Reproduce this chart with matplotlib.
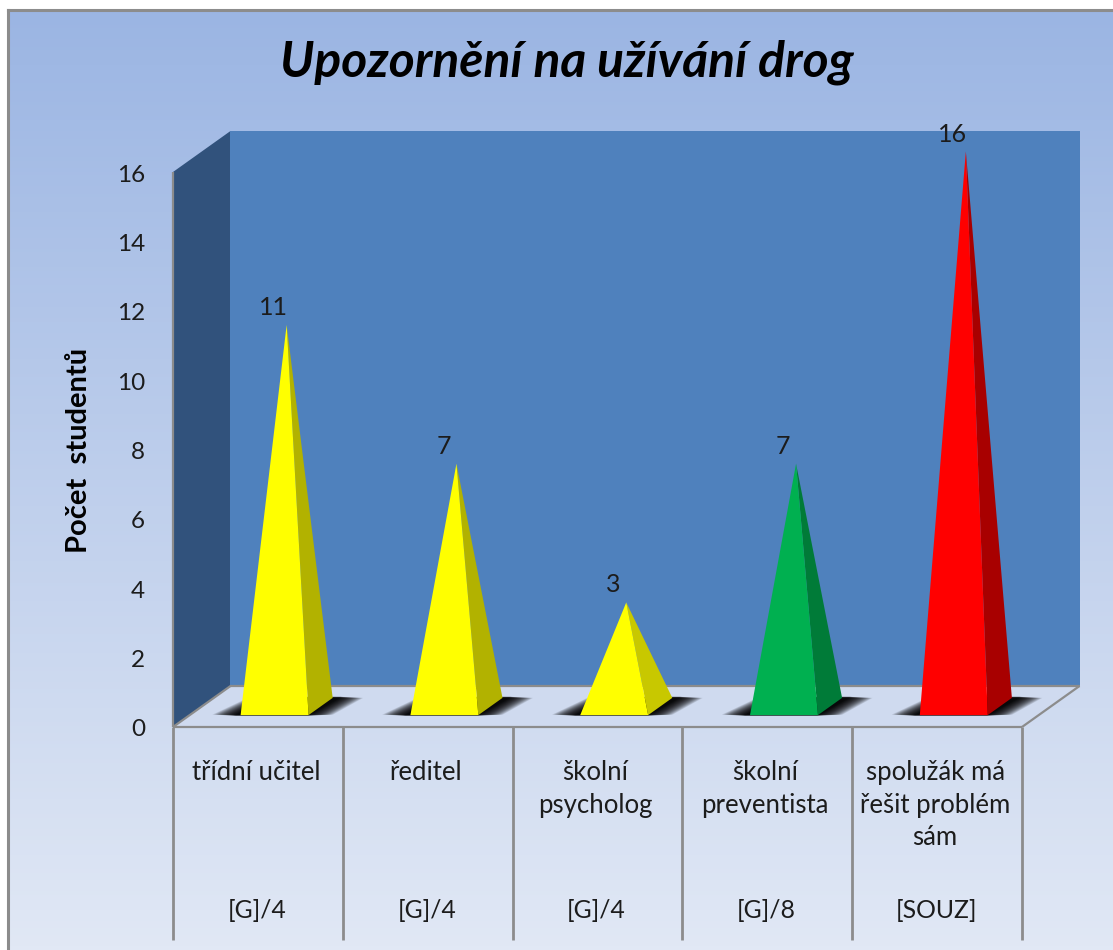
import numpy as np
import matplotlib
matplotlib.use("Agg")
import matplotlib.pyplot as plt
from matplotlib.patches import Polygon
from matplotlib.transforms import ScaledTranslation

categories = ["třídní učitel", "ředitel", "školní\npsycholog", "školní\npreventista", "spolužák má\nřešit problém\nsám"]
groups = ["[G]/4", "[G]/4", "[G]/4", "[G]/8", "[SOUZ]"]
values = [11, 7, 3, 7, 16]
face_colors = ["#FFFF00", "#FFFF00", "#FFFF00", "#00B050", "#FF0000"]
side_colors = ["#B2B200", "#B2B200", "#C8C800", "#007B38", "#A80000"]
yticks = [0, 2, 4, 6, 8, 10, 12, 14, 16]
title = "Upozornění na užívání drog"
ylabel = "Počet  studentů"

W, H = 1113, 950
FONT = "Lato"
TXT = "#1c1c1c"
GRAY = "#8c8c8c"

fig = plt.figure(figsize=(W / 100, H / 100), dpi=100, facecolor="white")

# background panel with vertical gradient
bg = fig.add_axes([8 / W, 0, (W - 8) / W, (H - 10) / H], zorder=0)
top_c = np.array([0x9B, 0xB5, 0xE3]) / 255
bot_c = np.array([0xE1, 0xE8, 0xF5]) / 255
t = np.linspace(0, 1, 256)[:, None, None]
bg.imshow(top_c[None, None, :] * (1 - t) + bot_c[None, None, :] * t, aspect="auto", extent=(0, 1, 0, 1))
bg.set_xticks([]); bg.set_yticks([])
for s in ["right", "bottom"]:
    bg.spines[s].set_visible(False)
for s in ["left", "top"]:
    bg.spines[s].set_color(GRAY); bg.spines[s].set_linewidth(2.2)

# main axes: front plane of the 3D box
L, R, B, T = 173, 1022, 727, 172
ax = fig.add_axes([L / W, (H - B) / H, (R - L) / W, (B - T) / H], zorder=1)
ax.patch.set_alpha(0)
ax.set_xlim(-0.5, 4.5)
ax.set_ylim(0, 16)
for s in ax.spines.values():
    s.set_visible(False)

DX = 57.5 / ((R - L) / 5)     # depth shift in category units
DY = 41 / ((B - T) / 16)      # depth shift in value units
BW = 0.40                     # base width
D0, D1 = 0.29, 0.71           # base depth extent
BOTTOM = -(940 - B) / ((B - T) / 16)


def P(x, v, d=0.0):
    return (x + d * DX, v + d * DY)


kw = dict(clip_on=False)
# walls and floor
ax.add_patch(Polygon([P(-0.5, 0), P(-0.5, 16), P(-0.5, 16, 1), P(-0.5, 0, 1)], fc="#31527C", ec="none", zorder=1, **kw))
ax.add_patch(Polygon([P(-0.5, 0, 1), P(-0.5, 16, 1), P(4.5, 16, 1), P(4.5, 0, 1)], fc="#4F81BD", ec="none", zorder=1, **kw))
ax.add_patch(Polygon([P(-0.5, 0), P(4.5, 0), P(4.5, 0, 1), P(-0.5, 0, 1)], fc="#CFDAEF", ec="none", zorder=1, **kw))

# floor edges and axis lines
lw = 2.0
edges = [(P(-0.5, 0), P(4.5, 0)), (P(-0.5, 0), P(-0.5, 0, 1)), (P(4.5, 0), P(4.5, 0, 1)),
         (P(-0.5, 0, 1), P(4.5, 0, 1)), (P(-0.5, 16), P(-0.5, 0))]
for a, b in edges:
    ax.plot([a[0], b[0]], [a[1], b[1]], color=GRAY, lw=lw * 0.8, solid_capstyle="butt", zorder=2, **kw)
for i in range(len(categories) + 1):
    ax.plot([i - 0.5, i - 0.5], [0, BOTTOM], color=GRAY, lw=lw, solid_capstyle="butt", zorder=2, **kw)

# pyramids with soft floor shadows
for i, (v, fc, sc) in enumerate(zip(values, face_colors, side_colors)):
    x0, x1 = i - BW / 2, i + BW / 2
    # shadow: stacked translucent parallelograms that fade out sideways and vertically
    n = 26
    for k in range(n):
        g = k / (n - 1)
        sx = 0.14 * (1 - g) ** 1.3
        dd = 0.03 * (1 - g)
        d0, d1 = D0 - 0.02 + dd, D1 + 0.03 - dd
        ax.add_patch(Polygon([P(x0 - sx - 0.03, 0, d0), P(x1 + sx, 0, d0),
                              P(x1 + sx + 0.04, 0, d1), P(x0 - sx + 0.04, 0, d1)],
                             fc="black", ec="none", alpha=0.10, zorder=3, **kw))
    apex = P(i, v, 0.5)
    ax.add_patch(Polygon([P(x1, 0, D0), P(x1, 0, D1), apex], fc=sc, ec="none", zorder=4, **kw))
    ax.add_patch(Polygon([P(x0, 0, D0), P(x1, 0, D0), apex], fc=fc, ec="none", zorder=4, **kw))
    ax.annotate(str(v), xy=apex, xytext=(-9.4, 12.6), textcoords="offset points", ha="center", va="center",
                fontsize=18, family=FONT, color=TXT, annotation_clip=False, zorder=5)

# ticks
ax.set_yticks(yticks)
ax.set_yticklabels([str(y) for y in yticks], fontsize=17.5, family=FONT, color=TXT)
ax.tick_params(axis="y", length=0, pad=20)
ax.set_xticks([])
for lab in ax.get_yticklabels():
    lab.set_transform(lab.get_transform() + ScaledTranslation(0, -1 / 100, fig.dpi_scale_trans))

# category labels
PX = 72 / 100  # points per pixel at this dpi
for i, (c, g) in enumerate(zip(categories, groups)):
    ax.annotate(c, xy=(i, 0), xytext=(-2 * PX, -(760 - B) * PX), textcoords="offset points", ha="center", va="top",
                fontsize=18.5, family=FONT, color=TXT, linespacing=1.38, annotation_clip=False)
    ax.annotate(g, xy=(i, 0), xytext=(-1 * PX, -(910 - B) * PX), textcoords="offset points", ha="center", va="center",
                fontsize=17.8, family=FONT, color=TXT, annotation_clip=False)

fig.text(79 / W, 1 - 450 / H, ylabel, rotation=90, ha="center", va="center", fontsize=21, fontweight="bold",
         family=FONT, color="black")
fig.text(567 / W, 1 - 62 / H, title, ha="center", va="center", fontsize=35.8, fontweight="bold", fontstyle="italic",
         family=FONT, color="black")

fig.savefig("out.png", dpi=100, facecolor="white")
